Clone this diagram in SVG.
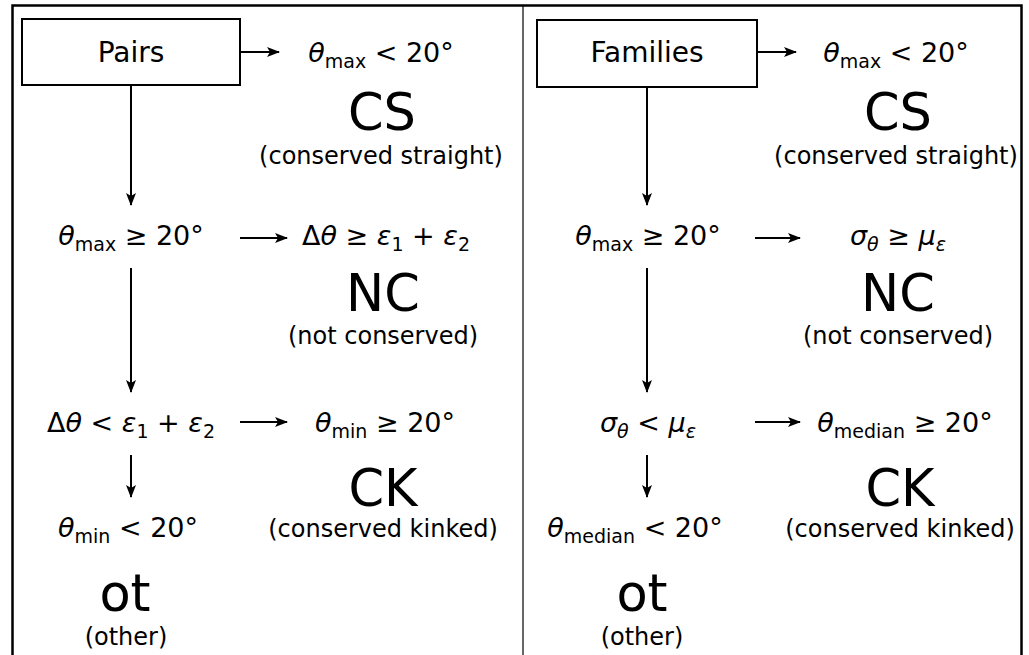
<svg xmlns="http://www.w3.org/2000/svg" width="1029" height="655" viewBox="0 0 1029 655">
<defs>
<marker id="ah" viewBox="0 0 13 10" refX="12" refY="5" markerWidth="13" markerHeight="10" markerUnits="userSpaceOnUse" orient="auto">
<path d="M0,0 L13,5 L0,10 L3,5 Z" fill="#000"/>
</marker>
<style>
text{font-family:"DejaVu Sans","Liberation Sans",sans-serif;fill:#000}
.m{font-size:27px;text-anchor:middle}
.big{font-size:51px;text-anchor:middle}
.sm{font-size:24px;text-anchor:middle}
.it{font-style:italic}
.sub{font-size:19px}
.box{fill:#fff;stroke:#000;stroke-width:2}
.conn line{stroke:#000;stroke-width:2;marker-end:url(#ah)}
</style>
</defs>
<rect width="1029" height="655" fill="#fff"/>
<rect x="12.5" y="5.5" width="1009" height="670" fill="none" stroke="#000" stroke-width="2.5"/>
<line x1="523" y1="5" x2="523" y2="655" stroke="#000" stroke-width="1.2"/>

<g class="conn" id="connectors">
<line x1="240" y1="52" x2="279" y2="52"/>
<line x1="131" y1="85" x2="131" y2="205"/>
<line x1="240" y1="238" x2="287" y2="238"/>
<line x1="131" y1="268" x2="131" y2="392"/>
<line x1="240" y1="422" x2="287" y2="422"/>
<line x1="131" y1="455" x2="131" y2="497"/>
<line x1="757" y1="52" x2="796" y2="52"/>
<line x1="647" y1="87" x2="647" y2="205"/>
<line x1="755" y1="238" x2="800" y2="238"/>
<line x1="647" y1="268" x2="647" y2="392"/>
<line x1="755" y1="422" x2="800" y2="422"/>
<line x1="647" y1="455" x2="647" y2="497"/>
</g>

<g id="pairs"><rect class="box" x="22" y="19" width="218" height="66"/><text class="m" x="131" y="62" style="font-size:28px">Pairs</text></g>
<g id="p-cs"><text class="m" x="381" y="62"><tspan class="it">θ</tspan><tspan class="sub" dy="6">max</tspan><tspan dy="-6"> &lt; 20°</tspan></text>
<text class="big" x="382" y="130">CS</text><text class="sm" x="381" y="164">(conserved straight)</text></g>
<g id="p-max"><text class="m" x="131" y="245"><tspan class="it">θ</tspan><tspan class="sub" dy="6">max</tspan><tspan dy="-6"> ≥ 20°</tspan></text></g>
<g id="p-nc"><text class="m" x="386" y="245">Δ<tspan class="it">θ</tspan> ≥ <tspan class="it">ε</tspan><tspan class="sub" dy="6">1</tspan><tspan dy="-6"> + </tspan><tspan class="it">ε</tspan><tspan class="sub" dy="6">2</tspan></text>
<text class="big" x="383" y="311">NC</text><text class="sm" x="383" y="344">(not conserved)</text></g>
<g id="p-delta"><text class="m" x="131" y="432">Δ<tspan class="it">θ</tspan> &lt; <tspan class="it">ε</tspan><tspan class="sub" dy="6">1</tspan><tspan dy="-6"> + </tspan><tspan class="it">ε</tspan><tspan class="sub" dy="6">2</tspan></text></g>
<g id="p-ck"><text class="m" x="385" y="432"><tspan class="it">θ</tspan><tspan class="sub" dy="6">min</tspan><tspan dy="-6"> ≥ 20°</tspan></text>
<text class="big" x="383" y="506">CK</text><text class="sm" x="383" y="537">(conserved kinked)</text></g>
<g id="p-ot"><text class="m" x="128" y="537"><tspan class="it">θ</tspan><tspan class="sub" dy="6">min</tspan><tspan dy="-6"> &lt; 20°</tspan></text>
<text class="big" x="125" y="611">ot</text><text class="sm" x="126" y="645">(other)</text></g>

<g id="families"><rect class="box" x="537" y="20" width="220" height="67"/><text class="m" x="647" y="62" style="font-size:28px">Families</text></g>
<g id="f-cs"><text class="m" x="896" y="62"><tspan class="it">θ</tspan><tspan class="sub" dy="6">max</tspan><tspan dy="-6"> &lt; 20°</tspan></text>
<text class="big" x="898" y="130">CS</text><text class="sm" x="896" y="164">(conserved straight)</text></g>
<g id="f-max"><text class="m" x="648" y="245"><tspan class="it">θ</tspan><tspan class="sub" dy="6">max</tspan><tspan dy="-6"> ≥ 20°</tspan></text></g>
<g id="f-nc"><text class="m" x="898" y="245"><tspan class="it">σ</tspan><tspan class="sub it" dy="6">θ</tspan><tspan dy="-6"> ≥ </tspan><tspan class="it">μ</tspan><tspan class="sub it" dy="6">ε</tspan></text>
<text class="big" x="898" y="311">NC</text><text class="sm" x="898" y="344">(not conserved)</text></g>
<g id="f-sigma"><text class="m" x="648" y="432"><tspan class="it">σ</tspan><tspan class="sub it" dy="6">θ</tspan><tspan dy="-6"> &lt; </tspan><tspan class="it">μ</tspan><tspan class="sub it" dy="6">ε</tspan></text></g>
<g id="f-ck"><text class="m" x="905" y="432"><tspan class="it">θ</tspan><tspan class="sub" dy="6">median</tspan><tspan dy="-6"> ≥ 20°</tspan></text>
<text class="big" x="900" y="506">CK</text><text class="sm" x="900" y="537">(conserved kinked)</text></g>
<g id="f-ot"><text class="m" x="635" y="537"><tspan class="it">θ</tspan><tspan class="sub" dy="6">median</tspan><tspan dy="-6"> &lt; 20°</tspan></text>
<text class="big" x="642" y="611">ot</text><text class="sm" x="642" y="645">(other)</text></g>
</svg>
